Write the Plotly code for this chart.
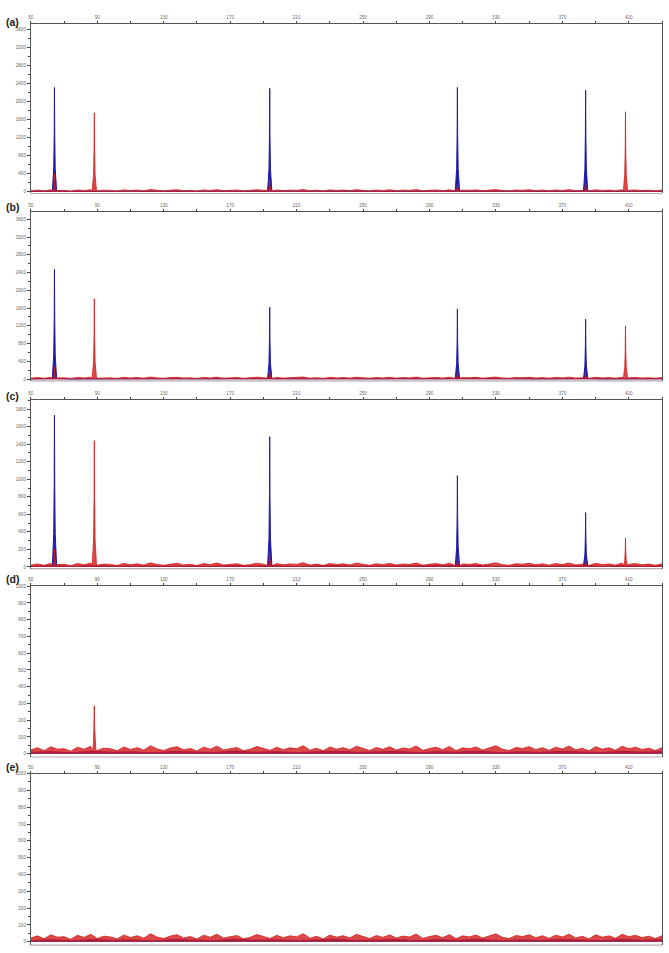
import plotly.graph_objects as go

# ---------------- data ----------------
X_MIN, X_MAX = 50, 430
X_TICKS = [50, 90, 130, 170, 210, 250, 290, 330, 370, 410]
PANEL_LABELS = ["(a)", "(b)", "(c)", "(d)", "(e)"]

# peak positions (size units)
BLUE_POS = [64.2, 193.8, 306.8, 384.0]
RED_POS = [88.2, 408.0]

# peak heights per panel (RFU)
BLUE_H = [
    [2310, 2290, 2310, 2250],
    [2470, 1620, 1580, 1350],
    [1730, 1485, 1040, 620],
    [0, 0, 0, 0],
    [0, 0, 0, 0],
]
RED_H = [
    [1750, 1770],
    [1810, 1200],
    [1440, 330],
    [286, 0],
    [0, 0],
]
# small red signal under the blue peaks
RED_PULL_H = [
    [400, 260, 160, 200],
    [280, 200, 150, 150],
    [200, 150, 100, 80],
    [0, 0, 0, 0],
    [0, 0, 0, 0],
]

# y axis: ranges and tick steps
Y_RANGES = [[-40, 3717], [-40, 3757], [-20, 1906], [-20, 1000], [-20, 1000]]
Y_DTICK = [400, 400, 200, 100, 100]

# baseline noise (RFU), one value every 4 size units from 50 to 430
RED_NOISE = [22, 35, 18, 41, 27, 30, 15, 38, 26, 44, 20, 33, 29, 17, 40, 25,
             36, 21, 47, 28, 19, 34, 42, 23, 31, 16, 39, 27, 45, 22, 30, 37,
             18, 26, 43, 32, 20, 38, 24, 35, 29, 48, 21, 33, 17, 40, 27, 36,
             23, 44, 30, 19, 37, 26, 41, 22, 34, 28, 46, 20, 31, 38, 24, 43,
             18, 35, 29, 40, 22, 33, 47, 26, 19, 37, 31, 42, 24, 36, 20, 39,
             28, 45, 23, 32, 17, 41, 27, 35, 21, 44, 30, 38, 25, 33, 19, 36]
BLUE_NOISE = [8, 12, 6, 14, 9, 11, 5, 13, 10, 7, 15, 9, 12, 6, 11, 14,
              8, 10, 13, 7, 12, 9, 15, 6, 11, 8, 13, 10, 7, 14, 9, 12]

BLUE = "#1d1da8"
RED = "#d31a1a"

# ---------------- helpers ----------------
SHAPE_OFF = [-1.3, -0.9, -0.45, -0.15, 0.0, 0.15, 0.45, 0.9, 1.3]
SHAPE_FR = [0.0, 0.10, 0.22, 0.55, 1.0, 0.55, 0.22, 0.10, 0.0]


def build_trace(noise, positions, heights):
    step = (X_MAX - X_MIN) / (len(noise) - 1)
    pts = []
    for i, v in enumerate(noise):
        x = X_MIN + i * step
        if any(h > 0 and abs(x - p) < 1.5 for p, h in zip(positions, heights)):
            continue
        pts.append((x, v))
    for p, h in zip(positions, heights):
        if h <= 0:
            continue
        for o, f in zip(SHAPE_OFF, SHAPE_FR):
            pts.append((p + o, max(f * h, 15)))
    pts.sort()
    return [a for a, _ in pts], [b for _, b in pts]


# panel pixel geometry (top, bottom) in a 953 px tall page
PANEL_PX = [(22, 192.1), (211, 380.1), (399, 568.5), (586, 757.4), (774, 946.1)]
LABEL_Y = [20, 206, 395, 579, 767]
H = 953
W = 669
X_DOM = [28 / W, 662 / W]

fig = go.Figure()
layout = dict(
    width=W, height=H, margin=dict(l=0, r=0, t=0, b=0),
    paper_bgcolor="white", plot_bgcolor="white", showlegend=False,
    font=dict(family="Liberation Sans, Arial", color="#777"),
)
annotations = []
shapes = []

for k in range(5):
    xa = "x" if k == 0 else f"x{k+1}"
    ya = "y" if k == 0 else f"y{k+1}"
    top, bot = PANEL_PX[k]
    dom = [1 - bot / H, 1 - top / H]

    bx, by = build_trace(BLUE_NOISE, BLUE_POS, BLUE_H[k])
    fig.add_trace(go.Scatter(x=bx, y=by, mode="lines", xaxis=xa, yaxis=ya,
                             line=dict(color=BLUE, width=1), fill="tozeroy",
                             fillcolor=BLUE, hoverinfo="skip"))
    rpos = RED_POS + BLUE_POS
    rh = RED_H[k] + RED_PULL_H[k]
    rx, ry = build_trace(RED_NOISE, rpos, rh)
    fig.add_trace(go.Scatter(x=rx, y=ry, mode="lines", xaxis=xa, yaxis=ya,
                             line=dict(color=RED, width=0.8), fill="tozeroy",
                             fillcolor="rgba(211,26,26,0.8)", opacity=0.95,
                             hoverinfo="skip"))

    xkey = "xaxis" if k == 0 else f"xaxis{k+1}"
    ykey = "yaxis" if k == 0 else f"yaxis{k+1}"
    layout[xkey] = dict(
        domain=X_DOM, range=[X_MIN, X_MAX], anchor=ya, side="top",
        tickvals=X_TICKS, ticktext=[str(t) for t in X_TICKS],
        ticks="outside", ticklen=2, tickcolor="#444", tickwidth=0.8,
        minor=dict(tickvals=[t + 20 for t in X_TICKS], ticks="outside",
                   ticklen=2, tickcolor="#444"),
        showline=True, linecolor="#555", linewidth=1,
        showgrid=False, zeroline=False, tickfont=dict(size=4.6, color="#666"),
        fixedrange=True,
    )
    yr = Y_RANGES[k]
    layout[ykey] = dict(
        domain=dom, range=yr, anchor=xa,
        dtick=Y_DTICK[k], tick0=0, ticks="outside", ticklen=3,
        tickcolor="#444", tickwidth=0.8,
        minor=dict(dtick=Y_DTICK[k] / 2, ticks="outside", ticklen=2,
                   tickcolor="#444"),
        showline=True, linecolor="#555", linewidth=1, mirror=True,
        showgrid=False, zeroline=False, tickfont=dict(size=4.6, color="#666"),
        fixedrange=True,
    )
    shapes.append(dict(type="line", xref="paper", yref="paper",
                       x0=X_DOM[0], x1=X_DOM[1], y0=dom[0], y1=dom[0],
                       line=dict(color="#b9a9b0", width=1.2)))
    annotations.append(dict(text=f"<b>{PANEL_LABELS[k]}</b>", xref="paper",
                            yref="paper", x=1 / W, y=1 - LABEL_Y[k] / H,
                            xanchor="left", yanchor="middle", showarrow=False,
                            font=dict(size=10.5, color="#222",
                                      family="Liberation Sans, Arial")))

layout["annotations"] = annotations
layout["shapes"] = shapes
fig.update_layout(**layout)
fig.write_html("out.html")
